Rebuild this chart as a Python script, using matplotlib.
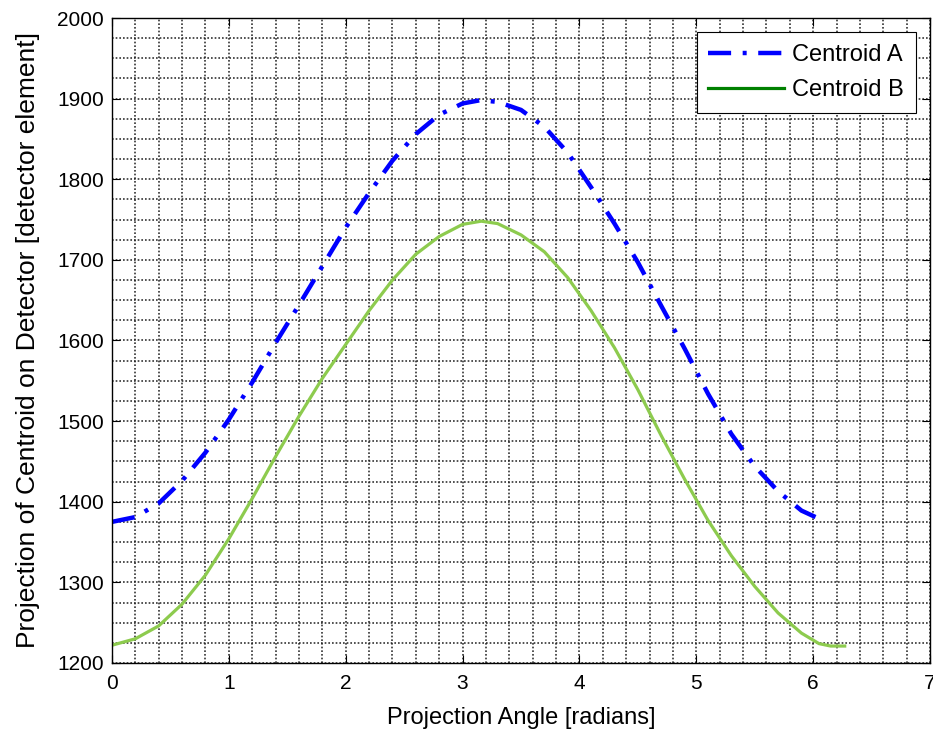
import matplotlib
matplotlib.use("Agg")
import matplotlib.pyplot as plt
from matplotlib.ticker import MultipleLocator
from matplotlib.lines import Line2D

plt.rcParams['font.family'] = ['Liberation Sans', 'DejaVu Sans']

# values
angle_a = [0.0, 0.2, 0.4, 0.6, 0.8, 1.0, 1.2, 1.4, 1.6, 1.8, 2.0, 2.2, 2.4, 2.6,
           2.8, 3.0, 3.15, 3.3, 3.5, 3.7, 3.9, 4.1, 4.3, 4.5, 4.7, 4.9, 5.1, 5.3,
           5.5, 5.7, 5.9, 6.11]
centroid_a = [1375, 1381, 1398, 1426, 1461, 1502, 1548, 1597, 1644, 1692, 1740, 1783,
              1823, 1856, 1880, 1894, 1898, 1896, 1886, 1865, 1833, 1790, 1745, 1697,
              1643, 1590, 1534, 1484, 1444, 1413, 1389, 1375]

angle_b = [0.0, 0.2, 0.4, 0.6, 0.8, 1.0, 1.2, 1.4, 1.6, 1.8, 2.0, 2.2, 2.4, 2.6,
           2.8, 3.0, 3.16, 3.3, 3.5, 3.7, 3.9, 4.1, 4.3, 4.5, 4.7, 4.9, 5.1, 5.3,
           5.5, 5.7, 5.9, 6.05, 6.15, 6.27]
centroid_b = [1222, 1230, 1246, 1273, 1309, 1354, 1404, 1456, 1506, 1553, 1595, 1637,
              1675, 1707, 1729, 1744, 1748, 1745, 1731, 1710, 1678, 1637, 1591, 1539,
              1482, 1428, 1377, 1333, 1295, 1262, 1237, 1224, 1221, 1221]

dash_dot = (0, (5.2, 2.6, 0.9, 2.6))

fig = plt.figure(figsize=(9.33, 7.35), dpi=100)
ax = fig.add_axes([0.12, 0.098, 0.8768, 0.8775])

ax.plot(angle_a, centroid_a, color='#0000ff', lw=3.2, linestyle=dash_dot)
ax.plot(angle_b, centroid_b, color='#8dcb4e', lw=2.3)

ax.set_xlim(0, 7)
ax.set_ylim(1200, 2000)
ax.xaxis.set_major_locator(MultipleLocator(1))
ax.yaxis.set_major_locator(MultipleLocator(100))
ax.xaxis.set_minor_locator(MultipleLocator(0.2))
ax.yaxis.set_minor_locator(MultipleLocator(25))
ax.grid(which='both', linestyle=(0, (1.1, 1.3)), color='#222222', lw=1.1)
ax.set_axisbelow(True)
ax.tick_params(which='major', direction='in', length=6, top=True, right=True,
               labelsize=15, width=0.8)
ax.tick_params(axis='x', pad=8)
ax.tick_params(axis='y', pad=6)
ax.tick_params(which='minor', length=0)
for s in ax.spines.values():
    s.set_linewidth(1.0)

ax.set_xlabel('Projection Angle [radians]', fontsize=17, labelpad=10)
ax.set_ylabel('Projection of Centroid on Detector [detector element]', fontsize=19,
              labelpad=12)

handles = [Line2D([], [], color='#0000ff', lw=3.2, linestyle=dash_dot),
           Line2D([], [], color='#008000', lw=2.3)]
leg = ax.legend(handles, ['Centroid A', 'Centroid B'], loc='upper right', fontsize=17,
                fancybox=False, framealpha=1, edgecolor='black', handlelength=3.2,
                handletextpad=0.35, labelspacing=0.55, borderpad=0.5,
                borderaxespad=0.6)
leg.get_frame().set_linewidth(0.8)

fig.savefig('out.png', dpi=100)
